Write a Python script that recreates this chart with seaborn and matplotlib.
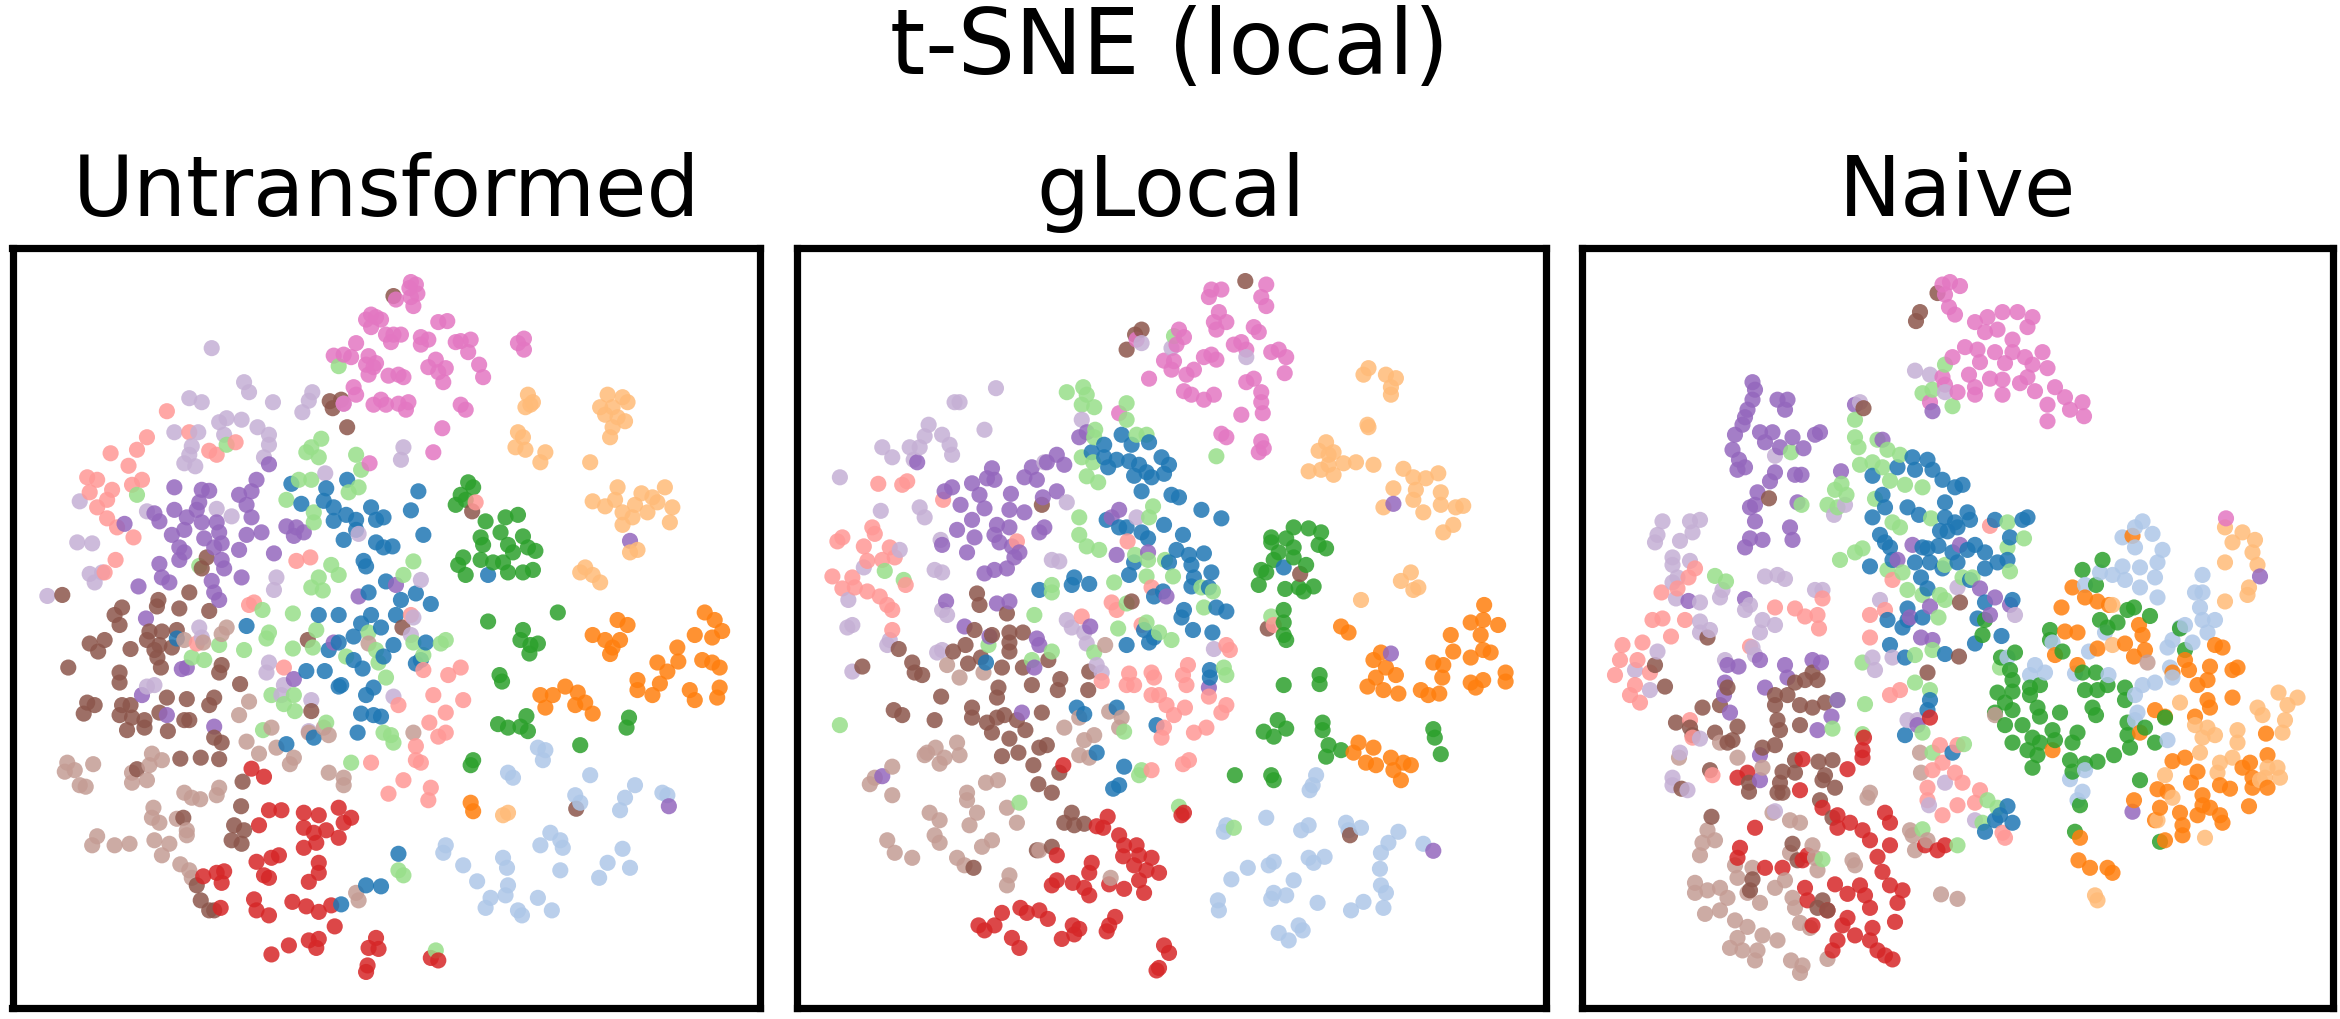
import pandas as pd
import seaborn as sns
import matplotlib.pyplot as plt

# Class names and colours (13 classes of tab20)
classes = ["blue", "lblue", "orange", "lorange", "green", "lgreen", "red", "lred",
           "purple", "lpurple", "brown", "lbrown", "pink"]
colours = ["#1f77b4", "#aec7e8", "#ff7f0e", "#ffbb78", "#2ca02c", "#98df8a", "#d62728", "#ff9896",
           "#9467bd", "#c5b0d5", "#8c564b", "#c49c94", "#e377c2"]

titles = ["Untransformed", "gLocal", "Naive"]

# Untransformed embedding
u_pink = [(825,100),(835,105),(822,112),(838,123),(825,130),(830,148),(795,135),(745,165),(735,175),(755,170),(745,190),(765,175),(880,180),(898,178),(790,205),(775,205),(785,220),(805,205),(845,210),(860,215),(845,225),(925,218),(945,215),(915,220),(940,240),(715,222),(670,247),(690,245),(705,250),(740,248),(735,265),(750,270),(740,285),(755,262),(780,287),(800,285),(810,290),(860,270),(875,255),(880,280),(895,272),(890,300),(962,265),(970,290),(1052,213),(1040,222),(1052,235),(710,310),(715,325),(750,345),(765,335),(775,345),(800,343),(820,340),(815,355),(925,345),(935,355),(888,392),(870,440),(742,462),(690,343)]
u_lorange = [(1060,325),(1070,340),(1055,350),(1065,345),(1040,400),(1050,410),(1035,430),(1055,435),(1085,460),(1095,440),(1185,460),(1220,325),(1250,330),(1205,350),(1230,350),(1260,340),(1215,365),(1240,370),(1255,378),(1230,390),(1225,410),(1240,510),(1190,538),(1215,548),(1235,535),(1250,560),(1275,545),(1288,522),(1310,530),(1335,510),(1320,540),(1300,560),(1270,570),(1250,585),(1350,550),(1345,580),(1280,635),(1265,640),(1175,670),(1190,685),(1205,700),(1165,680),(1020,1160),(1010,1165)]
u_green = [(940,500),(925,525),(950,510),(915,545),(935,535),(975,578),(1040,565),(1015,570),(1005,600),(965,610),(970,625),(1050,608),(1020,625),(1030,640),(1060,630),(1075,637),(930,650),(920,665),(935,685),(965,655),(990,660),(1010,660),(1050,680),(1070,675),(1020,680),(980,778),(1120,760),(1050,795),(1045,815),(1065,825),(1080,822),(1063,842),(1003,885),(1008,898),(1000,983),(1020,990),(1045,988),(1057,967),(1060,997),(1165,1025),(1263,970),(1258,990),(950,1055),(945,1065)]
u_orange = [(1415,760),(1435,775),(1450,797),(1430,810),(1395,805),(1240,775),(1260,785),(1190,805),(1215,815),(1230,830),(1245,815),(1225,843),(1360,830),(1362,858),(1320,860),(1340,878),(1410,855),(1430,860),(1445,870),(1280,895),(1280,915),(1325,902),(1310,925),(1385,915),(1395,935),(1445,910),(1440,930),(1085,925),(1110,925),(1095,950),(1135,908),(1160,920),(1175,940),(1155,945),(1190,962),(945,1140),(950,1157)]
u_lblue = [(1080,1030),(1095,1035),(1090,1055),(1020,1080),(1030,1090),(1185,1085),(1155,1125),(1165,1140),(1275,1105),(1255,1130),(1245,1155),(1330,1120),(1105,1200),(1125,1215),(1085,1225),(1130,1230),(895,1225),(890,1240),(930,1265),(958,1297),(1010,1250),(1018,1270),(1020,1305),(1015,1325),(985,1330),(975,1350),(1040,1355),(1048,1365),(1080,1330),(1108,1355),(1125,1275),(1250,1232),(1220,1260),(1265,1270),(1203,1290),(1340,1125)]
u_lgreen = [(645,413),(625,430),(615,440),(640,450),(715,445),(725,475),(600,495),(625,495),(720,510),(700,520),(575,535),(630,560),(630,580),(665,665),(680,685),(640,690),(625,710),(648,716),(588,762),(540,800),(535,812),(490,835),(588,832),(628,830),(635,795),(740,800),(755,835),(760,860),(695,848),(775,890),(830,820),(885,822),(895,815),(850,845),(545,925),(570,943),(590,925),(592,957),(655,980),(785,1005),(770,1000),(790,1020),(705,1060),(800,1275),(810,1285),(440,825),(410,855),(385,850),(830,658),(810,685),(400,667),(680,268),(455,425),(275,525),(875,1435),(527,755),(528,995)]
u_blue = [(697,495),(585,503),(655,512),(650,537),(605,543),(840,518),(825,556),(670,550),(695,565),(715,575),(745,550),(755,575),(770,570),(670,577),(715,595),(690,615),(850,605),(755,620),(770,630),(788,628),(730,657),(735,668),(775,698),(740,720),(805,735),(835,722),(865,743),(795,765),(680,765),(640,765),(745,765),(765,790),(710,808),(725,782),(660,835),(680,820),(790,825),(855,820),(845,855),(835,862),(710,855),(728,872),(770,848),(615,877),(652,877),(685,905),(680,908),(750,910),(735,925),(725,962),(750,965),(765,968),(718,1000),(630,1010),(575,1023),(495,787),(355,812),(800,1242),(735,1305),(765,1307),(685,1343),(980,685)]
u_lred = [(335,358),(380,400),(295,410),(275,435),(222,442),(258,467),(285,495),(265,505),(175,490),(195,495),(180,520),(225,515),(215,535),(195,550),(215,572),(235,590),(268,610),(232,655),(420,437),(435,445),(473,420),(595,657),(623,650),(510,740),(500,745),(395,822),(570,870),(925,870),(900,885),(870,925),(930,935),(800,945),(895,960),(862,980),(895,1000),(880,1008),(835,1027),(835,1055),(845,1060),(810,1095),(780,1122),(865,1110),(860,1135),(745,1060),(825,765),(850,875),(955,540),(210,680)]
u_red = [(505,1072),(530,1088),(565,1155),(540,1155),(520,1185),(610,1160),(640,1165),(680,1150),(705,1170),(690,1180),(610,1190),(630,1200),(655,1195),(635,1220),(610,1230),(680,1210),(560,1245),(545,1250),(515,1258),(530,1285),(540,1290),(640,1260),(640,1280),(620,1298),(408,1287),(435,1280),(450,1277),(445,1300),(510,1333),(515,1355),(587,1338),(540,1365),(615,1347),(640,1358),(665,1345),(672,1387),(545,1443),(580,1425),(620,1415),(640,1412),(635,1430),(755,1410),(760,1432),(740,1430),(738,1465),(735,1478),(880,1455),(865,1450),(443,1350)]
u_purple = [(350,510),(405,515),(420,517),(515,495),(505,518),(480,525),(495,545),(400,540),(395,555),(350,555),(505,570),(320,578),(375,570),(405,580),(435,580),(440,600),(495,605),(525,600),(575,588),(595,590),(610,600),(590,607),(345,605),(370,595),(360,630),(370,640),(410,612),(430,630),(445,622),(480,635),(550,642),(360,655),(320,663),(445,655),(450,672),(325,690),(340,700),(278,708),(485,690),(425,697),(430,720),(440,735),(795,705),(720,728),(293,772),(375,870),(365,873),(335,965),(430,988),(540,464),(590,893),(285,925),(310,562),(250,583),(670,820),(1343,1147),(1265,617)]
u_lpurple = [(425,232),(490,300),(500,320),(380,332),(405,340),(548,340),(627,320),(620,337),(607,360),(690,343),(485,375),(455,372),(440,380),(517,390),(540,405),(540,425),(350,400),(398,400),(450,405),(385,428),(380,445),(370,462),(392,468),(530,450),(810,430),(805,455),(653,482),(160,538),(295,558),(435,553),(465,568),(155,620),(185,622),(180,683),(205,680),(190,700),(555,690),(550,715),(95,727),(400,790),(405,810),(540,860),(535,880),(570,905),(565,925),(625,935),(295,908),(310,905),(825,805),(845,695),(620,997),(790,928),(720,603),(830,770)]
u_brown = [(662,338),(685,335),(668,352),(697,390),(415,650),(405,672),(380,720),(318,735),(315,748),(360,752),(245,750),(230,765),(240,785),(420,757),(300,798),(325,798),(355,795),(295,815),(180,822),(210,815),(197,838),(262,833),(320,825),(310,835),(345,830),(316,850),(323,870),(137,870),(240,880),(240,900),(445,865),(440,880),(482,903),(175,940),(190,945),(168,962),(245,945),(262,945),(240,965),(265,970),(290,975),(255,995),(290,990),(320,960),(335,930),(375,933),(430,930),(420,945),(380,975),(370,975),(337,997),(430,1010),(445,1020),(362,1052),(403,1050),(440,1053),(275,1073),(487,1098),(484,1147),(470,1185),(490,1195),(465,1215),(485,1222),(395,1305),(403,1335),(430,1355),(420,1355),(618,815),(625,957),(808,790),(948,558),(125,725),(368,1170),(1157,1152),(790,128)]
u_lbrown = [(135,1060),(130,1078),(150,1075),(187,1063),(160,1105),(172,1108),(305,1042),(325,1055),(300,1065),(265,1080),(265,1100),(295,1095),(370,1120),(385,1130),(402,1133),(440,1110),(435,1125),(308,1150),(305,1170),(320,1180),(355,1172),(375,1195),(375,1205),(195,1207),(185,1225),(230,1225),(260,1222),(310,1215),(325,1245),(340,1222),(362,1263),(380,1275),(385,1290),(455,790),(445,803),(480,965),(500,938),(545,990),(495,1018),(520,1042),(555,1030),(590,1050),(582,1063),(660,1080),(690,1090),(690,1105),(650,990),(660,1005),(620,1000),(715,1320),(720,1335),(370,815),(408,820),(740,822),(830,1000)]

# gLocal embedding
g_pink = [(865,115),(885,115),(860,130),(975,105),(965,130),(975,148),(880,160),(870,180),(895,180),(875,195),(950,190),(960,200),(800,195),(810,210),(795,225),(925,220),(910,225),(935,235),(865,245),(850,250),(875,255),(1000,235),(985,240),(1015,250),(770,257),(790,258),(785,275),(830,275),(815,285),(740,293),(1012,282),(950,293),(935,300),(965,320),(965,340),(968,362),(810,318),(825,325),(850,335),(870,325),(925,365),(885,403),(895,410),(965,418),(960,440),(970,432),(680,362),(715,215)]
g_lorange = [(1180,272),(1170,285),(1215,285),(1235,292),(1225,310),(1225,325),(1178,385),(1180,390),(1095,420),(1080,437),(1110,440),(1100,465),(1060,478),(1085,475),(1110,485),(1130,462),(1155,460),(1190,465),(1250,473),(1270,490),(1295,492),(1320,482),(1230,512),(1210,550),(1275,515),(1270,535),(1325,520),(1290,560),(1325,545),(1355,550),(1370,547),(1350,585),(1330,600),(1265,680),(1245,697),(1270,715),(1280,710),(1165,735),(1100,445)]
g_green = [(1030,590),(1060,592),(1085,600),(985,610),(985,620),(1015,612),(1080,625),(1095,632),(1030,630),(1000,640),(1030,650),(990,655),(1055,665),(965,675),(975,680),(960,705),(1013,713),(1040,710),(1070,708),(1050,718),(1010,755),(1010,780),(1010,805),(1015,815),(1010,905),(1082,885),(1082,903),(998,975),(970,998),(990,1008),(1015,992),(1088,980),(1088,995),(1100,1025),(1095,1048),(1125,1035),(1310,993),(1313,1010),(1325,1043),(912,1085),(985,1085),(990,1095)]
g_orange = [(1412,745),(1385,780),(1410,775),(1440,785),(1345,805),(1350,838),(1405,805),(1385,850),(1410,835),(1425,840),(1125,788),(1140,800),(1205,840),(1190,855),(1215,870),(1235,885),(1195,890),(1178,908),(1210,915),(1240,922),(1310,860),(1330,865),(1328,890),(1285,915),(1300,925),(1322,922),(1385,900),(1410,895),(1395,910),(1455,880),(1455,898),(1160,1020),(1190,1030),(1150,1040),(1175,1060),(1195,1065),(1225,1050),(1250,1060),(1230,1075),(1245,1095),(1265,1065)]
g_lblue = [(1075,1085),(1068,1105),(1062,1115),(975,1170),(895,1185),(890,1198),(1060,1185),(1045,1195),(1135,1180),(1165,1190),(1140,1195),(1240,1198),(1220,1220),(1205,1240),(1290,1222),(1060,1250),(1092,1248),(1070,1260),(990,1258),(980,1265),(938,1270),(905,1293),(1030,1295),(990,1320),(985,1332),(1015,1325),(878,1335),(880,1355),(1078,1340),(1203,1272),(1205,1305),(1215,1320),(1170,1338),(1210,1350),(1145,1355),(1040,1385),(1000,1400),(1020,1415),(1048,1395)]
g_lgreen = [(575,320),(608,310),(615,325),(605,345),(630,350),(695,342),(695,375),(632,395),(630,410),(715,405),(735,405),(605,450),(628,460),(615,488),(638,500),(600,570),(600,605),(615,628),(640,635),(790,208),(748,548),(740,570),(545,705),(545,720),(712,645),(738,655),(772,655),(788,688),(670,700),(695,742),(850,750),(845,710),(868,718),(510,765),(678,792),(735,780),(760,800),(785,815),(545,838),(505,855),(630,840),(890,870),(895,885),(120,985),(720,1085),(725,1075),(480,1140),(800,1148),(985,768),(248,695),(210,677),(418,825),(690,998),(910,1190),(735,688),(875,448)]
g_blue = [(685,405),(740,420),(705,425),(650,425),(625,440),(650,450),(675,455),(700,458),(720,465),(765,450),(780,465),(735,480),(710,487),(745,490),(770,483),(658,470),(725,518),(785,525),(800,530),(845,555),(885,572),(770,585),(655,575),(680,590),(695,590),(725,600),(738,612),(808,605),(795,635),(820,645),(850,642),(825,665),(710,660),(700,685),(865,680),(830,690),(860,710),(590,690),(585,705),(620,703),(520,715),(768,718),(750,728),(825,708),(810,755),(875,750),(895,758),(805,770),(730,795),(750,810),(740,820),(828,795),(867,800),(695,825),(862,875),(862,890),(755,985),(675,950),(595,950),(610,963),(635,1040),(690,1068),(680,1105),(668,1112),(413,860),(1010,670),(780,660)]
g_lred = [(197,503),(245,505),(255,498),(185,590),(190,603),(125,610),(115,618),(168,628),(220,630),(230,650),(205,655),(175,657),(105,688),(145,690),(125,712),(150,710),(175,718),(200,728),(215,745),(225,755),(252,705),(225,795),(327,535),(697,618),(745,710),(665,740),(675,755),(605,768),(725,785),(990,785),(895,825),(902,835),(818,865),(745,880),(750,890),(700,882),(695,905),(710,905),(808,885),(815,905),(860,928),(745,925),(760,925),(775,945),(790,965),(812,950),(895,945),(885,960),(855,990),(830,1000),(770,990),(765,1010),(820,1055),(808,1063),(645,897),(745,1075),(475,618)]
g_red = [(568,1065),(648,1190),(635,1187),(657,1168),(680,1205),(690,1225),(715,1225),(720,1245),(745,1250),(688,1247),(710,1265),(625,1260),(620,1280),(735,1275),(760,1280),(720,1295),(690,1312),(660,1303),(555,1295),(545,1305),(587,1300),(610,1310),(620,1325),(730,1320),(445,1360),(482,1350),(495,1360),(520,1355),(537,1372),(398,1385),(410,1395),(430,1385),(465,1410),(480,1430),(587,1385),(600,1392),(565,1412),(590,1403),(672,1368),(660,1385),(655,1397),(770,1425),(780,1440),(760,1470),(755,1475),(805,1165),(810,1160),(555,1245)]
g_purple = [(425,472),(415,492),(430,495),(345,510),(330,518),(385,502),(400,525),(362,545),(410,552),(505,470),(490,490),(515,495),(535,460),(555,445),(570,465),(463,523),(555,518),(527,530),(460,555),(490,560),(385,575),(355,595),(435,585),(460,590),(430,605),(390,610),(530,590),(520,600),(325,625),(440,620),(465,628),(480,640),(375,640),(470,650),(455,672),(430,675),(410,682),(680,555),(665,570),(675,645),(738,640),(435,742),(460,738),(333,738),(370,788),(420,808),(515,812),(520,825),(622,788),(775,728),(485,960),(205,1087),(860,910),(615,400),(600,410),(275,460),(1230,543),(1310,1236),(1225,842),(510,870)]
g_lpurple = [(433,312),(350,340),(360,340),(410,395),(298,385),(290,408),(325,405),(340,425),(345,445),(260,430),(280,430),(205,430),(225,450),(268,455),(120,490),(202,557),(280,550),(290,570),(605,375),(575,540),(715,570),(322,615),(240,635),(168,670),(310,675),(325,680),(545,655),(560,658),(137,735),(325,755),(335,765),(145,785),(135,790),(575,775),(585,790),(610,800),(615,822),(220,815),(215,825),(315,840),(325,835),(145,878),(635,865),(645,880),(870,833),(785,232),(725,222),(935,250),(530,460)]
g_brown = [(725,195),(712,205),(695,235),(525,545),(395,722),(400,745),(455,762),(1043,683),(705,738),(390,795),(425,805),(460,800),(487,800),(460,820),(372,825),(347,838),(460,838),(403,850),(377,862),(265,860),(270,880),(285,885),(445,870),(487,870),(538,855),(620,878),(562,893),(557,915),(505,905),(618,915),(438,910),(435,930),(323,928),(385,950),(228,955),(245,965),(310,975),(385,970),(525,960),(435,970),(450,965),(415,980),(475,975),(425,1000),(492,995),(460,1012),(520,1030),(535,1025),(445,1047),(478,1040),(508,1065),(560,1080),(518,1103),(545,1120),(585,1160),(590,1185),(570,1180),(610,1182),(515,1235),(545,1228),(978,792),(165,868),(238,833),(388,1270),(1143,1205),(933,98)]
g_lbrown = [(355,1020),(312,1030),(295,1040),(330,1050),(320,1062),(360,1045),(225,1068),(190,1090),(180,1103),(225,1125),(375,1120),(375,1135),(413,1100),(437,1095),(300,1160),(320,1175),(395,1160),(380,1185),(455,1150),(475,1180),(310,1205),(320,1220),(215,1215),(230,1240),(265,1250),(425,1215),(405,1228),(355,1250),(370,1265),(460,1285),(455,1305),(520,1235),(335,865),(360,890),(408,880),(600,970),(570,990),(685,970),(680,990),(610,1015),(630,1005),(600,1045),(620,1050),(652,825),(660,958),(663,1290),(290,1045)]

# Naive embedding
n_pink = [(780,100),(765,105),(800,108),(770,125),(778,150),(790,165),(885,160),(855,170),(915,160),(945,170),(935,190),(830,180),(850,200),(875,195),(905,215),(810,230),(835,235),(870,240),(905,240),(840,260),(785,250),(930,250),(965,240),(975,272),(890,262),(945,265),(765,290),(770,305),(818,285),(860,293),(885,295),(935,290),(830,310),(830,325),(885,325),(920,302),(950,318),(990,310),(1010,330),(975,345),(1045,340),(1020,355),(1048,368),(975,378),(795,320),(740,340),(1332,572)]
n_lorange = [(1330,590),(1365,600),(1390,615),(1345,620),(1385,640),(1395,665),(1330,660),(1378,710),(1375,725),(1330,738),(1105,745),(1105,825),(1437,920),(1475,930),(1455,945),(1395,950),(1405,965),(1450,975),(1445,1000),(1270,985),(1295,990),(1355,995),(1285,1010),(1310,1005),(1355,1020),(1240,940),(1280,1040),(1345,1050),(1320,1060),(1315,1080),(1415,1070),(1435,1070),(1440,1090),(1410,1090),(1210,1085),(1225,1130),(1195,1175),(1290,1210),(1070,1325),(1075,1335),(1400,1095)]
n_lblue = [(1165,578),(1150,590),(1125,610),(1185,603),(1150,630),(1205,635),(1195,660),(1125,668),(1160,670),(1080,680),(1105,685),(1130,695),(1160,710),(1190,690),(1195,730),(1285,685),(1285,720),(1270,720),(1280,750),(1310,775),(1285,775),(1250,785),(1240,790),(1295,800),(1225,815),(1265,820),(1215,830),(1050,705),(985,820),(950,865),(970,880),(940,885),(1030,882),(1097,885),(1165,905),(1190,900),(1150,925),(1155,960),(1150,975),(1020,1093),(1045,1118),(1035,1135),(1050,1075),(1225,890),(895,850),(1220,870),(1058,838),(1090,800),(1215,1015)]
n_green = [(1045,675),(1085,655),(1072,705),(1135,755),(1148,750),(1180,767),(1080,775),(1115,780),(1095,790),(1240,792),(1250,835),(980,795),(980,815),(1005,838),(1072,880),(1045,880),(1050,915),(1095,905),(1075,915),(1130,910),(1130,935),(1065,950),(1072,965),(910,840),(882,850),(900,875),(905,895),(875,920),(905,918),(940,910),(960,905),(940,925),(890,940),(905,955),(870,960),(955,950),(960,968),(1000,960),(925,985),(890,985),(985,995),(945,1010),(905,1020),(960,1020),(1035,1000),(1025,1020),(990,1015),(935,1035),(955,1045),(945,1070),(1020,1055),(1050,1062),(1075,1058),(1108,1045),(1135,980),(1135,1005),(1140,1030),(1170,990),(1190,1020),(1025,1078),(1160,1095),(1030,1198),(1040,1145),(850,775),(845,805),(1210,970),(1200,1218)]
n_orange = [(1145,607),(1025,710),(1050,730),(1075,738),(1098,745),(1003,750),(1010,798),(1035,800),(1158,785),(1165,805),(1170,835),(1075,832),(1130,822),(1148,848),(990,845),(1035,865),(1310,825),(1325,830),(1250,855),(1300,868),(1345,875),(1355,870),(1225,880),(1258,875),(1295,895),(1275,905),(1345,930),(1295,935),(1300,950),(1190,955),(1270,968),(1210,968),(1160,1000),(1412,1002),(1225,1057),(1250,1050),(1275,1078),(1262,1100),(1415,1045),(1380,1060),(1365,1070),(1385,1090),(1385,1110),(1320,1105),(1340,1112),(1415,1110),(1195,1113),(1215,1118),(1285,1125),(1285,1145),(1300,1150),(1320,1165),(1325,1180),(1275,1165),(1240,1160),(1200,1150),(1190,1175),(1245,1185),(1245,1205),(1378,1147),(1148,1135),(1210,1215),(1040,1210),(1037,1255),(1060,1270),(1095,1270),(1105,1280),(985,1035)]
n_lgreen = [(590,375),(590,410),(597,430),(635,415),(655,435),(600,465),(625,460),(680,445),(660,497),(690,505),(725,510),(645,470),(563,503),(550,515),(573,525),(535,545),(555,550),(630,533),(560,655),(590,640),(605,632),(665,580),(680,590),(742,572),(895,580),(928,612),(895,630),(900,678),(695,715),(725,725),(770,735),(770,665),(685,680),(655,675),(757,770),(760,725),(825,690),(805,690),(710,845),(745,835),(605,860),(710,900),(740,915),(555,935),(610,943),(545,992),(605,1003),(725,1000),(745,1040),(808,1023),(525,1253),(725,1193),(795,1225),(855,1135),(875,1150),(845,1180),(462,440),(483,545),(310,687),(332,698),(725,322),(745,315),(785,348),(770,265),(880,870)]
n_blue = [(735,455),(705,450),(675,470),(625,487),(710,475),(745,475),(765,495),(790,510),(805,505),(645,525),(650,550),(695,550),(770,540),(625,570),(718,565),(770,570),(815,560),(820,575),(790,580),(795,590),(870,575),(935,570),(925,575),(640,605),(650,620),(660,630),(760,597),(775,598),(900,610),(725,630),(735,632),(757,627),(785,640),(815,635),(830,625),(850,640),(795,660),(665,655),(710,660),(740,660),(620,668),(765,672),(850,672),(875,660),(895,655),(722,690),(820,695),(735,712),(695,752),(695,775),(685,790),(725,770),(850,740),(905,735),(835,772),(883,807),(830,822),(660,825),(690,850),(770,843),(740,935),(735,955),(690,1005),(785,1040),(850,1198),(870,1175),(880,1165),(895,1147),(905,1180),(655,775)]
n_lred = [(860,587),(270,672),(257,690),(203,720),(235,712),(185,775),(205,772),(250,775),(222,808),(430,750),(470,752),(490,768),(515,765),(525,732),(518,792),(620,765),(650,755),(620,810),(125,825),(165,820),(120,855),(155,855),(110,885),(180,880),(150,905),(160,940),(140,925),(380,828),(260,975),(265,1010),(305,1085),(660,925),(680,915),(760,1025),(795,1025),(765,1060),(745,1075),(790,1080),(735,1110),(805,1100),(840,1115),(735,1135),(795,1145),(765,1165),(830,1140),(890,1210),(885,1200),(665,695)]
n_red = [(608,1010),(605,1035),(605,1050),(740,970),(375,1080),(355,1090),(485,1053),(575,1073),(480,1115),(525,1150),(555,1165),(580,1180),(650,1160),(660,1180),(605,1195),(620,1215),(555,1190),(660,1225),(635,1248),(390,1190),(360,1230),(355,1250),(485,1255),(410,1270),(445,1270),(645,1278),(490,1310),(495,1335),(550,1303),(600,1305),(610,1325),(575,1322),(660,1305),(685,1315),(675,1340),(620,1350),(535,1355),(575,1370),(565,1385),(670,1378),(505,1385),(590,1405),(625,1390),(620,1415),(555,1415),(545,1435),(635,1435),(665,1453),(650,1445),(730,1225),(770,1225),(755,1235),(495,1245)]
n_purple = [(385,300),(390,315),(385,335),(375,355),(370,370),(365,385),(435,335),(455,335),(450,355),(350,405),(400,400),(425,400),(465,410),(510,405),(520,400),(410,420),(440,430),(345,435),(487,432),(358,455),(370,470),(355,475),(430,480),(420,498),(470,485),(483,485),(562,478),(395,520),(390,545),(380,550),(475,540),(390,578),(460,590),(465,615),(380,612),(405,615),(370,630),(590,345),(645,415),(745,358),(705,625),(800,625),(675,655),(870,730),(840,712),(900,745),(257,737),(370,733),(740,748),(700,770),(722,810),(745,815),(400,855),(335,865),(357,868),(450,865),(505,855),(522,860),(455,890),(410,910),(330,900),(340,960),(555,935),(543,968),(515,995),(400,1045),(400,1095),(715,985),(1145,1158),(1400,688),(860,765),(328,925)]
n_lpurple = [(710,277),(740,285),(600,340),(205,578),(260,578),(280,575),(195,605),(265,600),(240,617),(190,620),(225,650),(225,665),(260,657),(235,690),(225,700),(410,688),(435,685),(450,693),(325,715),(320,730),(510,715),(525,715),(280,740),(232,732),(380,745),(370,755),(405,775),(430,785),(400,800),(280,778),(280,800),(300,795),(385,830),(390,845),(195,838),(330,855),(150,875),(180,915),(625,850),(630,875),(665,850),(640,735),(795,710),(910,765),(240,1040),(225,1090),(225,1105),(255,1115),(430,1157),(695,975),(715,975),(770,1100),(738,1145),(830,1175),(548,565),(770,320),(430,447),(570,545),(280,1012)]
n_brown = [(755,122),(720,160),(712,178),(607,352),(418,532),(800,740),(295,810),(798,848),(210,908),(190,865),(505,880),(490,895),(515,895),(470,900),(735,880),(335,910),(320,945),(430,925),(455,925),(430,945),(285,950),(480,945),(505,950),(530,940),(232,980),(260,990),(355,988),(310,1000),(480,985),(435,975),(440,995),(430,1025),(405,1030),(265,1005),(335,1020),(345,1015),(470,1055),(517,1058),(545,1055),(445,1078),(470,1080),(530,1085),(525,1095),(378,1100),(378,1118),(300,1075),(550,1110),(440,1100),(435,1120),(445,1120),(243,1112),(520,1135),(545,1170),(303,1168),(385,1293),(380,1315),(525,1335),(515,1350),(535,1355),(465,1222),(475,1255)]
n_lbrown = [(620,1120),(615,1130),(425,1160),(460,1175),(480,1180),(295,1195),(310,1215),(285,1220),(280,1245),(505,1225),(510,1250),(515,1275),(585,1255),(590,1265),(350,1265),(355,1290),(385,1270),(270,1300),(270,1320),(295,1315),(320,1310),(335,1330),(375,1320),(400,1340),(430,1310),(460,1240),(450,1295),(465,1330),(470,1350),(480,1380),(500,1390),(290,1362),(320,1355),(350,1375),(375,1388),(355,1410),(340,1430),(365,1435),(405,1405),(435,1415),(395,1435),(390,1455),(462,1455),(485,1465),(480,1480),(535,1452),(762,1323),(795,1332),(700,1195),(710,1235),(720,1040),(722,1080),(705,1205),(735,1215),(870,965),(238,1050),(320,1020),(355,1050),(405,1070),(1175,860)]


def make_frame(prefix):
    rows = []
    for name in classes:
        for x, y in globals()[prefix + name]:
            rows.append((name, x, y))
    df = pd.DataFrame(rows, columns=["cls", "x", "y"])
    # points are mixed in the original, not layered class by class
    return df.sort_values(["x", "y"])


sns.set_theme(style="white")
plt.rcParams["font.family"] = "DejaVu Sans"

W, H = 2340, 1020
fig = plt.figure(figsize=(W / 100, H / 100), dpi=100)
palette = dict(zip(classes, colours))

# frame of each panel in pixels (left, right) and the x range it shows
frames_px = [(12.5, 760), (796.5, 1546), (1582, 2332.5)]
x_ranges = [(25, 1526), (33, 1536), (44, 1545)]

for title, prefix, (l, r), xr in zip(titles, ["u_", "g_", "n_"], frames_px, x_ranges):
    ax = fig.add_axes([l / W, (H - 1009) / H, (r - l) / W, 760 / H])
    sns.scatterplot(data=make_frame(prefix), x="x", y="y", hue="cls", palette=palette,
                    s=135, alpha=0.85, linewidth=0, legend=False, ax=ax)
    ax.set_xlim(*xr)
    ax.set_ylim(1550, 32)
    ax.set_xticks([])
    ax.set_yticks([])
    ax.set_xlabel("")
    ax.set_ylabel("")
    for sp in ax.spines.values():
        sp.set_visible(True)
        sp.set_color("black")
        sp.set_linewidth(5.2)
    ax.set_title(title, fontsize=60, pad=24, color="black")

fig.suptitle("t-SNE (local)", fontsize=65, x=0.5, y=(H - 74) / H, va="baseline", color="black")
fig.savefig("out.png", dpi=100)
